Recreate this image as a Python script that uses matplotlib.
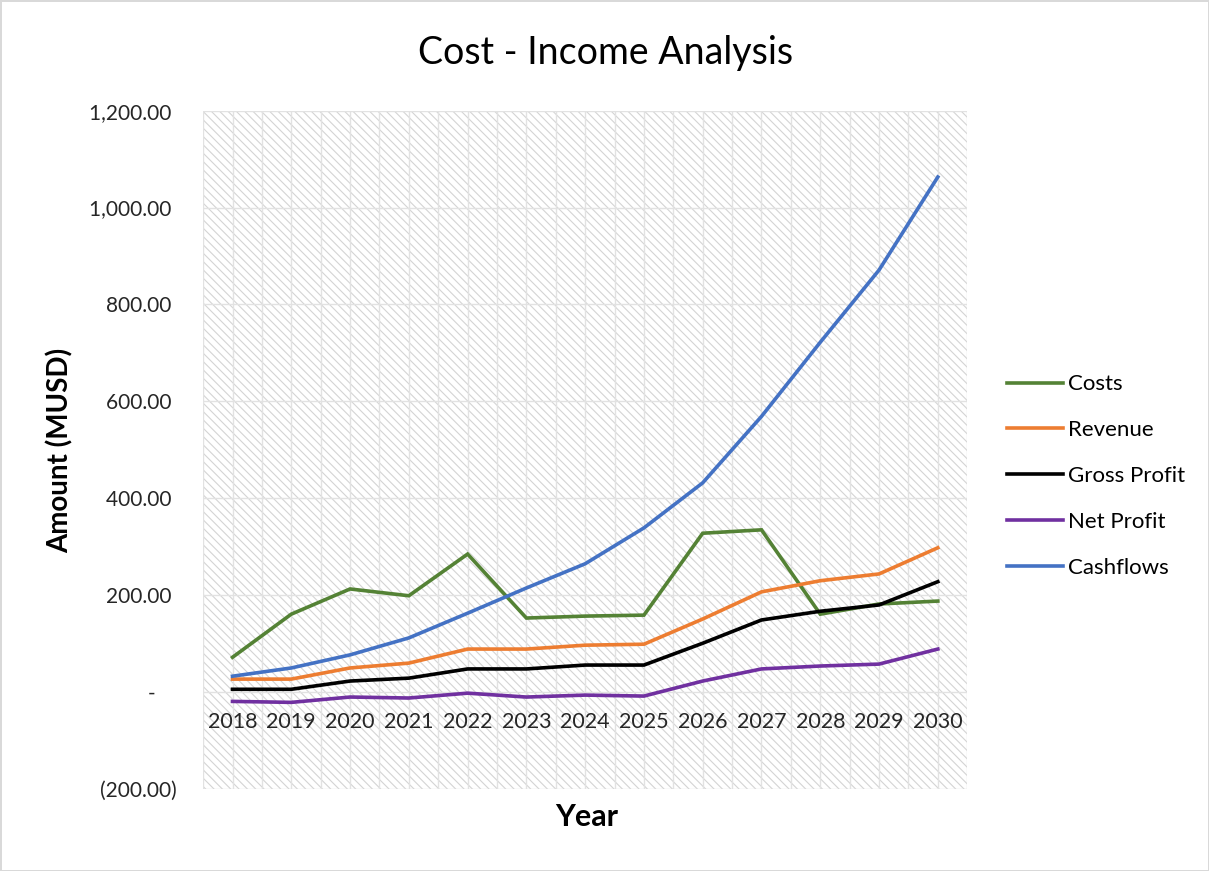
import matplotlib.pyplot as plt
from matplotlib.patches import Rectangle
from matplotlib.ticker import FuncFormatter, MultipleLocator

plt.rcParams["font.family"] = ["Lato", "DejaVu Sans"]
plt.rcParams["hatch.linewidth"] = 0.8

years = ["2018", "2019", "2020", "2021", "2022", "2023", "2024",
         "2025", "2026", "2027", "2028", "2029", "2030"]

costs = [72, 161, 213, 199, 285, 153, 157, 159, 328, 335, 161, 182, 188]
revenue = [27, 27, 50, 60, 89, 89, 97, 99, 151, 207, 230, 244, 298]
gross_profit = [6, 6, 23, 29, 48, 48, 56, 56, 101, 149, 167, 180, 228]
net_profit = [-19, -21, -10, -12, -2, -10, -6, -8, 23, 48, 54, 58, 89]
cashflows = [33, 50, 77, 112, 163, 215, 265, 339, 432, 569, 722, 871, 1063]

series = [
    ("Costs", costs, "#548235"),
    ("Revenue", revenue, "#ED7D31"),
    ("Gross Profit", gross_profit, "#000000"),
    ("Net Profit", net_profit, "#7030A0"),
    ("Cashflows", cashflows, "#4472C4"),
]


def fmt(v, pos):
    if abs(v) < 1e-9:
        return "-    "
    if v < 0:
        return f"({abs(v):,.2f})"
    return f"{v:,.2f} "


fig = plt.figure(figsize=(12.09, 8.71), dpi=100)
fig.patch.set_edgecolor("#d9d9d9")
fig.patch.set_linewidth(2)
ax = fig.add_axes([0.168, 0.094, 0.632, 0.779])

# hatched plot area
ax.add_patch(Rectangle((0, 0), 1, 1, transform=ax.transAxes, facecolor="white",
                       edgecolor="#d4d4d4", linewidth=0, hatch="\\\\\\\\", zorder=0))

x = list(range(len(years)))
for name, vals, col in series:
    ax.plot(x, vals, color=col, lw=2.6, label=name, zorder=3,
            solid_joinstyle="miter")

ax.set_xlim(-0.5, 12.5)
ax.set_ylim(-200, 1200)
ax.yaxis.set_major_locator(MultipleLocator(200))
ax.yaxis.set_major_formatter(FuncFormatter(fmt))
ax.set_xticks(x)
ax.set_xticklabels(years)
ax.set_xticks([i + 0.5 for i in range(-1, 13)], minor=True)

ax.grid(True, which="major", color="#e2e2e2", lw=1)
ax.grid(True, which="minor", axis="x", color="#e2e2e2", lw=1)
ax.set_axisbelow(True)

for s in ax.spines.values():
    s.set_visible(False)
ax.spines["bottom"].set_position(("data", 0))

ax.tick_params(axis="both", which="both", length=0)
ax.tick_params(axis="x", labelsize=15.5, pad=14, colors="#262626")
ax.tick_params(axis="y", labelsize=15, pad=19, colors="#262626")

fig.text(0.501, 1 - 53 / 871, "Cost - Income Analysis", fontsize=27,
         ha="center", va="center")
fig.text(0.050, 1 - 450 / 871, "Amount (MUSD)", fontsize=20, fontweight="bold",
         rotation=90, ha="center", va="center")
fig.text(0.4855, 1 - 817 / 871, "Year", fontsize=22, fontweight="bold",
         ha="center", va="center")

ax.legend(loc="center left", bbox_to_anchor=(1007 / 1209, 1 - 476 / 871),
          bbox_transform=fig.transFigure, frameon=False, borderpad=0,
          borderaxespad=0, fontsize=16, handlelength=2.5, labelspacing=1.16,
          handletextpad=0.25)

fig.savefig("out.png", dpi=100)
